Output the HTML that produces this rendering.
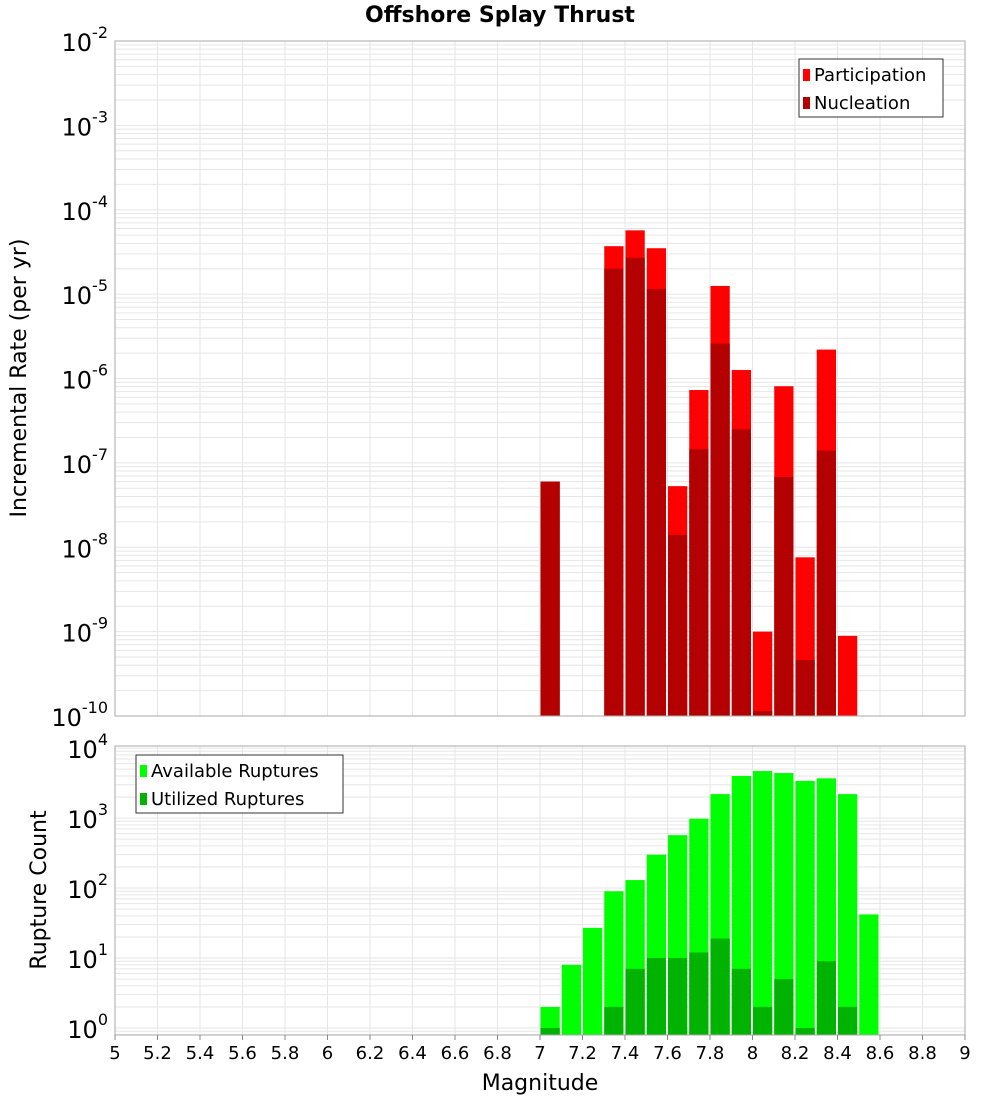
<!DOCTYPE html>
<html><head><meta charset="utf-8"><style>
body{margin:0;background:#fff;font-family:"Liberation Sans","DejaVu Sans",sans-serif;}
svg text{font-family:"DejaVu Sans","Liberation Sans",sans-serif;}
</style></head><body>
<svg id="c" width="1000" height="1100" xmlns="http://www.w3.org/2000/svg"></svg>
<script>
const bins=[7.05,7.15,7.25,7.35,7.45,7.55,7.65,7.75,7.85,7.95,8.05,8.15,8.25,8.35,8.45,8.55];
const participation=[6e-8,0,0,3.7e-5,5.7e-5,3.5e-5,5.3e-8,7.3e-7,1.25e-5,1.26e-6,1e-9,8.1e-7,7.6e-9,2.2e-6,8.9e-10,0];
const nucleation=[6e-8,0,0,2e-5,2.7e-5,1.15e-5,1.4e-8,1.45e-7,2.6e-6,2.5e-7,1.15e-10,6.8e-8,4.6e-10,1.4e-7,0,0];
const available=[2,8,27,90,130,300,570,980,2200,4000,4700,4400,3400,3700,2200,42];
const utilized=[1,0,0,2,7,10,10,12,19,7,2,5,1,9,2,0];
const xTicks=[5,5.2,5.4,5.6,5.8,6,6.2,6.4,6.6,6.8,7,7.2,7.4,7.6,7.8,8,8.2,8.4,8.6,8.8,9];
const topExps=[-10,-9,-8,-7,-6,-5,-4,-3,-2];
const botExps=[0,1,2,3,4];

const NS="http://www.w3.org/2000/svg",svg=document.getElementById('c');
function el(t,a,p){const e=document.createElementNS(NS,t);for(const k in a)e.setAttribute(k,a[k]);(p||svg).appendChild(e);return e;}
const L=115,R=965;
const X=v=>L+(v-5)/(9-5)*(R-L);
const T={top:41,bot:716,min:-10,max:-2};
const B={top:746,bot:1035,min:-0.1,max:4.03};
const Y=(p,v)=>p.bot-(Math.log10(v)-p.min)/(p.max-p.min)*(p.bot-p.top);

function panel(p,name){
  const g=el('g',{});
  for(let x=5.2;x<9;x+=0.2)el('line',{x1:X(x),x2:X(x),y1:p.top,y2:p.bot,stroke:'#e6e6e6'},g);
  for(let e=Math.floor(p.min);e<Math.ceil(p.max);e++)for(let m=1;m<10;m++){const v=m*Math.pow(10,e);const ly=Math.log10(v);if(ly<p.min||ly>p.max)continue;
    el('line',{x1:L,x2:R,y1:Y(p,v),y2:Y(p,v),stroke:'#e6e6e6'},g);}
}
panel(T,'top');panel(B,'bottom');

function bars(p,vals,color,name){
  bins.forEach((b,i)=>{const v=vals[i];if(!v)return;const y=Y(p,v);
    const r=el('rect',{x:X(b-0.05)+0.5,y:y,width:X(b+0.05)-X(b-0.05)-2,height:p.bot-y,fill:color});
    });
}
bars(T,participation,'#ff0000','participation');
bars(T,nucleation,'#b30000','nucleation');
bars(B,available,'#00ff00','available');
bars(B,utilized,'#00b300','utilized');

[T,B].forEach((p,i)=>{const r=el('rect',{x:L,y:p.top,width:R-L,height:p.bot-p.top,fill:'none',stroke:'#aaa'});
  });

function ylabels(p,exps,name){exps.forEach(e=>{const y=Y(p,Math.pow(10,e));
  const t=el('text',{x:108,y:y+10,'text-anchor':'end','font-size':24,fill:'#000'});
  
  t.appendChild(document.createTextNode('10'));const s=el('tspan',{dy:-13,'font-size':16},t);s.textContent=String(e);});}
ylabels(T,topExps,'top-y');ylabels(B,botExps,'bottom-y');
xTicks.forEach(v=>{const t=el('text',{x:X(v),y:1059,'text-anchor':'middle','font-size':18});t.textContent=String(v);
  
  el('line',{x1:X(v),x2:X(v),y1:1035,y2:1040,stroke:'#888'});});

function txt(s,a,n){const t=el('text',a);t.textContent=s;return t;}
txt('Offshore Splay Thrust',{x:500,y:22,'text-anchor':'middle','font-size':22,'font-weight':'bold'},'chart-title');
txt('Magnitude',{x:540,y:1090,'text-anchor':'middle','font-size':22},'x-axis-title');
txt('Incremental Rate (per yr)',{x:26,y:378,'text-anchor':'middle','font-size':22,transform:'rotate(-90 26 378)'},'top-y-axis-title');
txt('Rupture Count',{x:46,y:890,'text-anchor':'middle','font-size':22,transform:'rotate(-90 46 890)'},'bottom-y-axis-title');

function legend(x,y,w,items,n){const g=el('g',{});
  el('rect',{x:x,y:y,width:w,height:58,fill:'#fff',stroke:'#333'},g);
  items.forEach((it,i)=>{el('rect',{x:x+4,y:y+10+i*28,width:7,height:12,fill:it[1]},g);
    const t=el('text',{x:x+15,y:y+22+i*28,'font-size':18},g);t.textContent=it[0];});}
legend(799,59,144,[['Participation','#ff0000'],['Nucleation','#b30000']],'top-legend');
legend(136,755,207,[['Available Ruptures','#00ff00'],['Utilized Ruptures','#00b300']],'bottom-legend');
</script>
</body></html>
